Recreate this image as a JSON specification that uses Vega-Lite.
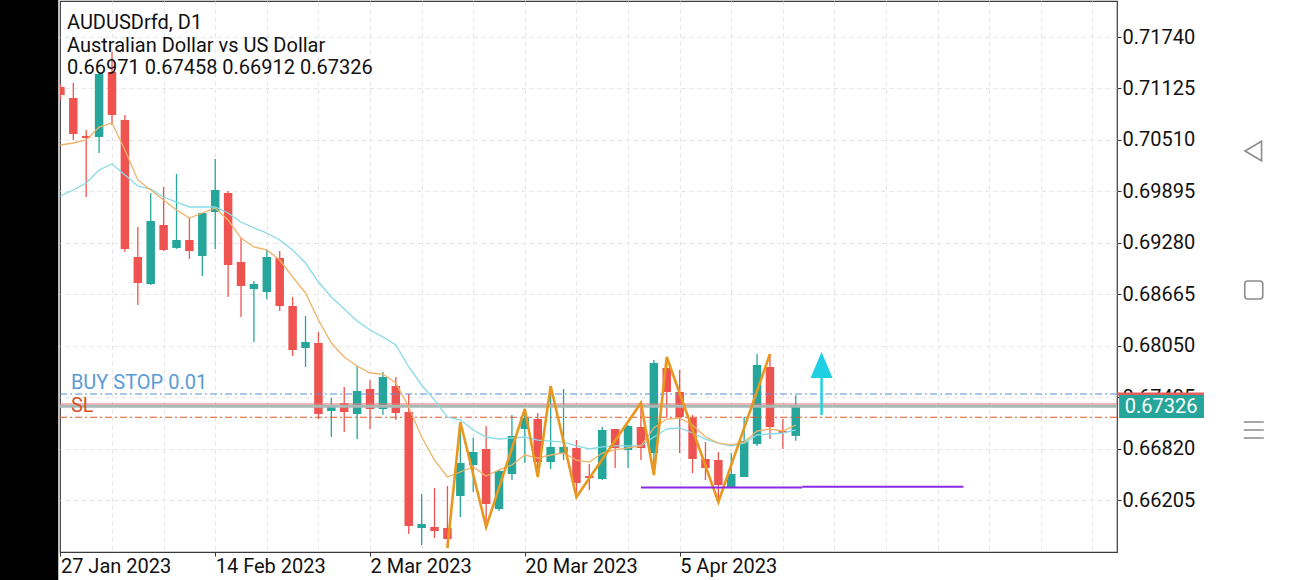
{
  "$schema": "https://vega.github.io/schema/vega-lite/v6.json",
  "width": 1057,
  "height": 551,
  "autosize": {"type": "none"},
  "padding": {"left": 60, "top": 1, "right": 173, "bottom": 28},
  "background": "white",
  "config": {
    "font": "Roboto",
    "view": {"stroke": "#3a3a3a", "strokeWidth": 1.2}
  },
  "datasets": {
    "candles": [
      {"i":0,"o":0.71142,"h":0.71178,"l":0.70987,"c":0.71047},
      {"i":1,"o":0.71011,"h":0.71190,"l":0.70509,"c":0.70580},
      {"i":2,"o":0.70557,"h":0.70628,"l":0.69827,"c":0.70533},
      {"i":3,"o":0.70545,"h":0.71322,"l":0.70353,"c":0.71298},
      {"i":4,"o":0.71322,"h":0.71561,"l":0.70688,"c":0.70808},
      {"i":5,"o":0.70748,"h":0.70808,"l":0.69170,"c":0.69206},
      {"i":6,"o":0.69110,"h":0.69469,"l":0.68536,"c":0.68799},
      {"i":7,"o":0.68787,"h":0.69875,"l":0.68775,"c":0.69540},
      {"i":8,"o":0.69493,"h":0.69947,"l":0.69182,"c":0.69194},
      {"i":9,"o":0.69218,"h":0.70102,"l":0.69206,"c":0.69313},
      {"i":10,"o":0.69313,"h":0.69576,"l":0.69086,"c":0.69182},
      {"i":11,"o":0.69122,"h":0.69636,"l":0.68883,"c":0.69636},
      {"i":12,"o":0.69648,"h":0.70282,"l":0.69206,"c":0.69911},
      {"i":13,"o":0.69875,"h":0.69899,"l":0.68632,"c":0.69014},
      {"i":14,"o":0.69050,"h":0.69337,"l":0.68393,"c":0.68763},
      {"i":15,"o":0.68727,"h":0.68823,"l":0.68094,"c":0.68787},
      {"i":16,"o":0.68692,"h":0.69194,"l":0.68608,"c":0.69110},
      {"i":17,"o":0.69098,"h":0.69182,"l":0.68464,"c":0.68524},
      {"i":18,"o":0.68524,"h":0.68632,"l":0.67927,"c":0.67998},
      {"i":19,"o":0.68022,"h":0.68405,"l":0.67795,"c":0.68094},
      {"i":20,"o":0.68082,"h":0.68213,"l":0.67173,"c":0.67233},
      {"i":21,"o":0.67269,"h":0.67424,"l":0.66958,"c":0.67341},
      {"i":22,"o":0.67365,"h":0.67556,"l":0.67018,"c":0.67257},
      {"i":23,"o":0.67233,"h":0.67807,"l":0.66934,"c":0.67508},
      {"i":24,"o":0.67532,"h":0.67640,"l":0.67054,"c":0.67293},
      {"i":25,"o":0.67293,"h":0.67735,"l":0.67221,"c":0.67675},
      {"i":26,"o":0.67568,"h":0.67675,"l":0.67161,"c":0.67245},
      {"i":27,"o":0.67257,"h":0.67472,"l":0.65799,"c":0.65894},
      {"i":28,"o":0.65870,"h":0.66277,"l":0.65667,"c":0.65918},
      {"i":29,"o":0.65882,"h":0.66348,"l":0.65751,"c":0.65834},
      {"i":30,"o":0.65870,"h":0.66372,"l":0.65631,"c":0.65739},
      {"i":31,"o":0.66253,"h":0.67137,"l":0.66002,"c":0.66647},
      {"i":32,"o":0.66623,"h":0.66946,"l":0.66301,"c":0.66779},
      {"i":33,"o":0.66815,"h":0.67090,"l":0.65882,"c":0.66157},
      {"i":34,"o":0.66097,"h":0.66564,"l":0.66073,"c":0.66552},
      {"i":35,"o":0.66516,"h":0.67221,"l":0.66444,"c":0.66970},
      {"i":36,"o":0.67054,"h":0.67293,"l":0.66647,"c":0.67185},
      {"i":37,"o":0.67173,"h":0.67245,"l":0.66480,"c":0.66659},
      {"i":38,"o":0.66659,"h":0.67568,"l":0.66576,"c":0.66839},
      {"i":39,"o":0.66767,"h":0.67532,"l":0.66683,"c":0.66839},
      {"i":40,"o":0.66827,"h":0.66922,"l":0.66241,"c":0.66408},
      {"i":41,"o":0.66492,"h":0.66635,"l":0.66325,"c":0.66468},
      {"i":42,"o":0.66456,"h":0.67078,"l":0.66444,"c":0.67042},
      {"i":43,"o":0.67054,"h":0.67054,"l":0.66588,"c":0.66827},
      {"i":44,"o":0.66803,"h":0.67102,"l":0.66588,"c":0.67090},
      {"i":45,"o":0.67078,"h":0.67365,"l":0.66683,"c":0.66827},
      {"i":46,"o":0.66767,"h":0.67879,"l":0.66504,"c":0.67843},
      {"i":47,"o":0.67783,"h":0.67915,"l":0.67197,"c":0.67496},
      {"i":48,"o":0.67496,"h":0.67759,"l":0.66767,"c":0.67197},
      {"i":49,"o":0.67185,"h":0.67221,"l":0.66528,"c":0.66695},
      {"i":50,"o":0.66695,"h":0.66898,"l":0.66444,"c":0.66588},
      {"i":51,"o":0.66683,"h":0.66779,"l":0.66181,"c":0.66384},
      {"i":52,"o":0.66360,"h":0.66767,"l":0.66348,"c":0.66516},
      {"i":53,"o":0.66480,"h":0.67197,"l":0.66480,"c":0.66910},
      {"i":54,"o":0.66874,"h":0.67950,"l":0.66851,"c":0.67819},
      {"i":55,"o":0.67795,"h":0.67950,"l":0.66934,"c":0.67078},
      {"i":56,"o":0.67030,"h":0.67173,"l":0.66815,"c":0.67006},
      {"i":57,"o":0.66971,"h":0.67458,"l":0.66912,"c":0.67326}
    ],
    "ma": [
      {"i":0,"fast":0.70449,"slow":0.69839},{"i":1,"fast":0.70473,"slow":0.69911},
      {"i":2,"fast":0.70509,"slow":0.69995},{"i":3,"fast":0.70664,"slow":0.70150},
      {"i":4,"fast":0.70712,"slow":0.70222},{"i":5,"fast":0.70389,"slow":0.70090},
      {"i":6,"fast":0.70031,"slow":0.69959},{"i":7,"fast":0.69911,"slow":0.69923},
      {"i":8,"fast":0.69791,"slow":0.69827},{"i":9,"fast":0.69672,"slow":0.69767},
      {"i":10,"fast":0.69576,"slow":0.69708},{"i":11,"fast":0.69636,"slow":0.69708},
      {"i":12,"fast":0.69696,"slow":0.69708},{"i":13,"fast":0.69552,"slow":0.69636},
      {"i":14,"fast":0.69337,"slow":0.69528},{"i":15,"fast":0.69230,"slow":0.69457},
      {"i":16,"fast":0.69194,"slow":0.69397},{"i":17,"fast":0.69074,"slow":0.69313},
      {"i":18,"fast":0.68871,"slow":0.69194},{"i":19,"fast":0.68680,"slow":0.69038},
      {"i":20,"fast":0.68357,"slow":0.68811},{"i":21,"fast":0.68082,"slow":0.68632},
      {"i":22,"fast":0.67915,"slow":0.68488},{"i":23,"fast":0.67807,"slow":0.68345},
      {"i":24,"fast":0.67723,"slow":0.68237},{"i":25,"fast":0.67711,"slow":0.68154},
      {"i":26,"fast":0.67604,"slow":0.68058},{"i":27,"fast":0.67317,"slow":0.67795},
      {"i":28,"fast":0.66958,"slow":0.67580},{"i":29,"fast":0.66683,"slow":0.67400},
      {"i":30,"fast":0.66480,"slow":0.67197},{"i":31,"fast":0.66540,"slow":0.67161},
      {"i":32,"fast":0.66600,"slow":0.67042},{"i":33,"fast":0.66492,"slow":0.66958},
      {"i":34,"fast":0.66564,"slow":0.66934},{"i":35,"fast":0.66623,"slow":0.66946},
      {"i":36,"fast":0.66743,"slow":0.66958},{"i":37,"fast":0.66707,"slow":0.66922},
      {"i":38,"fast":0.66743,"slow":0.66910},{"i":39,"fast":0.66767,"slow":0.66898},
      {"i":40,"fast":0.66683,"slow":0.66851},{"i":41,"fast":0.66659,"slow":0.66815},
      {"i":42,"fast":0.66767,"slow":0.66839},{"i":43,"fast":0.66803,"slow":0.66851},
      {"i":44,"fast":0.66827,"slow":0.66851},{"i":45,"fast":0.66851,"slow":0.66851},
      {"i":46,"fast":0.67066,"slow":0.66958},{"i":47,"fast":0.67173,"slow":0.67054},
      {"i":48,"fast":0.67185,"slow":0.67066},{"i":49,"fast":0.67102,"slow":0.67006},
      {"i":50,"fast":0.66958,"slow":0.66934},{"i":51,"fast":0.66886,"slow":0.66886},
      {"i":52,"fast":0.66863,"slow":0.66851},{"i":53,"fast":0.66898,"slow":0.66886},
      {"i":54,"fast":0.67030,"slow":0.66982},{"i":55,"fast":0.67054,"slow":0.66994},
      {"i":56,"fast":0.67030,"slow":0.67006},{"i":57,"fast":0.67102,"slow":0.67042}
    ],
    "zigzag": [
      {"i":30,"p":0.65631},{"i":31,"p":0.67137},{"i":33,"p":0.65882},{"i":36,"p":0.67293},
      {"i":37,"p":0.66480},{"i":38,"p":0.67568},{"i":40,"p":0.66241},{"i":45,"p":0.67365},
      {"i":46,"p":0.66504},{"i":47,"p":0.67915},{"i":51,"p":0.66181},{"i":55,"p":0.67950}
    ],
    "levels": [
      {"name":"buystop","label":"BUY STOP 0.01","p":0.67472},
      {"name":"sl","label":"SL","p":0.67194},
      {"name":"ask","label":"","p":0.67353},
      {"name":"bid","label":"","p":0.67326}
    ],
    "support": [
      {"from":45,"to":57.5,"p":0.66354},
      {"from":57.5,"to":70,"p":0.66363}
    ],
    "arrow": [
      {"i":59,"base":0.67221,"tip":0.67663,"head":0.67819}
    ],
    "header": [
      {"lines": ["AUDUSDrfd, D1", "Australian Dollar vs US Dollar", "0.66971 0.67458 0.66912 0.67326"]}
    ]
  },
  "resolve": {"axis": {"x": "independent", "y": "independent"}},
  "layer": [
    {
      "data": {"name": "candles"},
      "mark": {"type": "rule", "strokeWidth": 1.3, "clip": true},
      "encoding": {
        "x": {"field": "i", "type": "quantitative", "scale": {"domain": [-0.031, 81.9], "nice": false, "zero": false, "padding": 0},
          "axis": {"orient": "bottom", "values": [4,8,12,16,20,24,28,32,36,40,44,48,52,56,60,64,68,72,76,80], "grid": true, "gridColor": "#e4e4e4", "gridDash": [4,4], "gridWidth": 1, "labels": false, "ticks": false, "domain": false, "title": null}},
        "y": {"field": "l", "type": "quantitative", "scale": {"domain": [0.655834, 0.721704], "nice": false, "zero": false, "padding": 0},
          "axis": {"orient": "right", "values": [0.66205,0.66820,0.67435,0.68050,0.68665,0.69280,0.69895,0.70510,0.71125,0.71740], "format": ".5f",
            "grid": true, "gridColor": "#e4e4e4", "gridDash": [4,4], "gridWidth": 1, "domain": false, "ticks": true, "tickSize": 4, "tickColor": "#333333",
            "labelPadding": 1, "labelFontSize": 20, "labelFont": "Roboto", "labelColor": "#111111", "labelBaseline": "middle", "labelFlush": false, "labelOverlap": false, "labelBound": false, "title": null}},
        "y2": {"field": "h"},
        "color": {"condition": {"test": "datum.c >= datum.o", "value": "#26A69A"}, "value": "#EF5350"}
      }
    },
    {
      "data": {"name": "candles"},
      "mark": {"type": "bar", "size": 8.5, "clip": true},
      "encoding": {
        "x": {"field": "i", "type": "quantitative", "scale": {"domain": [-0.031, 81.9], "nice": false, "zero": false, "padding": 0},
          "axis": {"orient": "bottom", "values": [0,12,24,36,48], "labelExpr": "datum.value == 0 ? '27 Jan 2023' : datum.value == 12 ? '14 Feb 2023' : datum.value == 24 ? '2 Mar 2023' : datum.value == 36 ? '20 Mar 2023' : '5 Apr 2023'",
            "labelAlign": "left", "labelBaseline": "top", "labelPadding": 0, "labelFontSize": 20, "labelFont": "Roboto", "labelColor": "#111111",
            "grid": false, "domain": false, "ticks": true, "tickSize": 4, "tickColor": "#333333", "labelFlush": false, "labelOverlap": false, "labelBound": false, "title": null}},
        "y": {"field": "o", "type": "quantitative", "scale": {"domain": [0.655834, 0.721704], "nice": false, "zero": false, "padding": 0}, "axis": null},
        "y2": {"field": "c"},
        "color": {"condition": {"test": "datum.c >= datum.o", "value": "#26A69A"}, "value": "#EF5350"}
      }
    },
    {
      "data": {"name": "levels"},
      "transform": [{"filter": "datum.name == 'bid'"}],
      "mark": {"type": "rule", "color": "#a9b9b6", "strokeWidth": 3},
      "encoding": {"y": {"field": "p", "type": "quantitative", "scale": {"domain": [0.655834, 0.721704], "nice": false, "zero": false, "padding": 0}, "axis": null}}
    },
    {
      "data": {"name": "levels"},
      "transform": [{"filter": "datum.name == 'ask'"}],
      "mark": {"type": "rule", "color": "#e07b7b", "strokeWidth": 1},
      "encoding": {"y": {"field": "p", "type": "quantitative", "scale": {"domain": [0.655834, 0.721704], "nice": false, "zero": false, "padding": 0}, "axis": null}}
    },
    {
      "data": {"name": "levels"},
      "transform": [{"filter": "datum.name == 'buystop'"}],
      "mark": {"type": "rule", "color": "#5b8fd6", "strokeWidth": 1.2, "strokeDash": [7,3,2,3]},
      "encoding": {"y": {"field": "p", "type": "quantitative", "scale": {"domain": [0.655834, 0.721704], "nice": false, "zero": false, "padding": 0}, "axis": null}}
    },
    {
      "data": {"name": "levels"},
      "transform": [{"filter": "datum.name == 'sl'"}],
      "mark": {"type": "rule", "color": "#e0592a", "strokeWidth": 1.2, "strokeDash": [7,3,2,3]},
      "encoding": {"y": {"field": "p", "type": "quantitative", "scale": {"domain": [0.655834, 0.721704], "nice": false, "zero": false, "padding": 0}, "axis": null}}
    },
    {
      "data": {"name": "ma"},
      "mark": {"type": "line", "color": "#86dbe6", "strokeWidth": 1.3, "clip": true},
      "encoding": {
        "x": {"field": "i", "type": "quantitative", "scale": {"domain": [-0.031, 81.9], "nice": false, "zero": false, "padding": 0}, "axis": null},
        "y": {"field": "slow", "type": "quantitative", "scale": {"domain": [0.655834, 0.721704], "nice": false, "zero": false, "padding": 0}, "axis": null}
      }
    },
    {
      "data": {"name": "ma"},
      "mark": {"type": "line", "color": "#efb268", "strokeWidth": 1.3, "clip": true},
      "encoding": {
        "x": {"field": "i", "type": "quantitative", "scale": {"domain": [-0.031, 81.9], "nice": false, "zero": false, "padding": 0}, "axis": null},
        "y": {"field": "fast", "type": "quantitative", "scale": {"domain": [0.655834, 0.721704], "nice": false, "zero": false, "padding": 0}, "axis": null}
      }
    },
    {
      "data": {"name": "zigzag"},
      "mark": {"type": "line", "color": "#e8981e", "strokeWidth": 2.6, "clip": true},
      "encoding": {
        "x": {"field": "i", "type": "quantitative", "scale": {"domain": [-0.031, 81.9], "nice": false, "zero": false, "padding": 0}, "axis": null},
        "y": {"field": "p", "type": "quantitative", "scale": {"domain": [0.655834, 0.721704], "nice": false, "zero": false, "padding": 0}, "axis": null}
      }
    },
    {
      "data": {"name": "support"},
      "mark": {"type": "rule", "color": "#8a2be2", "strokeWidth": 2},
      "encoding": {
        "x": {"field": "from", "type": "quantitative", "scale": {"domain": [-0.031, 81.9], "nice": false, "zero": false, "padding": 0}, "axis": null},
        "x2": {"field": "to"},
        "y": {"field": "p", "type": "quantitative", "scale": {"domain": [0.655834, 0.721704], "nice": false, "zero": false, "padding": 0}, "axis": null}
      }
    },
    {
      "data": {"name": "arrow"},
      "mark": {"type": "rule", "color": "#1fd0e3", "strokeWidth": 2.5},
      "encoding": {
        "x": {"field": "i", "type": "quantitative", "scale": {"domain": [-0.031, 81.9], "nice": false, "zero": false, "padding": 0}, "axis": null},
        "y": {"field": "base", "type": "quantitative", "scale": {"domain": [0.655834, 0.721704], "nice": false, "zero": false, "padding": 0}, "axis": null},
        "y2": {"field": "tip"}
      }
    },
    {
      "data": {"name": "arrow"},
      "mark": {"type": "point", "shape": "M0,-1L0.85,1L-0.85,1Z", "filled": true, "color": "#1fd0e3", "opacity": 1, "size": 676},
      "encoding": {
        "x": {"field": "i", "type": "quantitative", "scale": {"domain": [-0.031, 81.9], "nice": false, "zero": false, "padding": 0}, "axis": null},
        "y": {"field": "head", "type": "quantitative", "scale": {"domain": [0.655834, 0.721704], "nice": false, "zero": false, "padding": 0}, "axis": null}
      }
    },
    {
      "data": {"name": "levels"},
      "transform": [{"filter": "datum.name == 'buystop' || datum.name == 'sl'"}],
      "mark": {"type": "text", "align": "left", "baseline": "alphabetic", "dx": 10.5, "dy": -5.5, "fontSize": 20, "font": "Roboto"},
      "encoding": {
        "x": {"datum": 0, "type": "quantitative", "scale": {"domain": [-0.031, 81.9], "nice": false, "zero": false, "padding": 0}, "axis": null},
        "y": {"field": "p", "type": "quantitative", "scale": {"domain": [0.655834, 0.721704], "nice": false, "zero": false, "padding": 0}, "axis": null},
        "text": {"field": "label"},
        "color": {"condition": {"test": "datum.name == 'sl'", "value": "#d4572a"}, "value": "#5b9bd5"}
      }
    },
    {
      "data": {"name": "header"},
      "mark": {"type": "text", "align": "left", "baseline": "top", "dx": 7, "dy": 12.2, "fontSize": 20, "font": "Roboto", "color": "#111111", "lineHeight": 22.5},
      "encoding": {
        "x": {"datum": -0.031, "type": "quantitative", "scale": {"domain": [-0.031, 81.9], "nice": false, "zero": false, "padding": 0}, "axis": null},
        "y": {"datum": 0.721704, "type": "quantitative", "scale": {"domain": [0.655834, 0.721704], "nice": false, "zero": false, "padding": 0}, "axis": null},
        "text": {"field": "lines"}
      }
    },
    {
      "data": {"name": "levels"},
      "transform": [{"filter": "datum.name == 'bid'"}],
      "mark": {"type": "rect", "color": "#e35d5d"},
      "encoding": {
        "x": {"datum": 81.9, "type": "quantitative", "scale": {"domain": [-0.031, 81.9], "nice": false, "zero": false, "padding": 0}, "axis": null},
        "x2": {"datum": 88.64},
        "y": {"datum": 0.67489, "type": "quantitative", "scale": {"domain": [0.655834, 0.721704], "nice": false, "zero": false, "padding": 0}, "axis": null},
        "y2": {"datum": 0.67454}
      }
    },
    {
      "data": {"name": "levels"},
      "transform": [{"filter": "datum.name == 'bid'"}],
      "mark": {"type": "rect", "color": "#26A69A"},
      "encoding": {
        "x": {"datum": 82.06, "type": "quantitative", "scale": {"domain": [-0.031, 81.9], "nice": false, "zero": false, "padding": 0}, "axis": null},
        "x2": {"datum": 88.64},
        "y": {"datum": 0.67460, "type": "quantitative", "scale": {"domain": [0.655834, 0.721704], "nice": false, "zero": false, "padding": 0}, "axis": null},
        "y2": {"datum": 0.67185}
      }
    },
    {
      "data": {"name": "levels"},
      "transform": [{"filter": "datum.name == 'bid'"}],
      "mark": {"type": "text", "align": "left", "baseline": "middle", "dy": 1, "fontSize": 20, "font": "Roboto", "color": "#ffffff"},
      "encoding": {
        "x": {"datum": 82.5, "type": "quantitative", "scale": {"domain": [-0.031, 81.9], "nice": false, "zero": false, "padding": 0}, "axis": null},
        "y": {"field": "p", "type": "quantitative", "scale": {"domain": [0.655834, 0.721704], "nice": false, "zero": false, "padding": 0}, "axis": null},
        "text": {"field": "p", "format": ".5f"}
      }
    },
    {
      "data": {"values": [{}]},
      "mark": {"type": "rect", "color": "#000000"},
      "encoding": {
        "x": {"datum": -6, "type": "quantitative", "scale": {"domain": [-0.031, 81.9], "nice": false, "zero": false, "padding": 0}, "axis": null},
        "x2": {"datum": -0.165},
        "y": {"datum": 0.80, "type": "quantitative", "scale": {"domain": [0.655834, 0.721704], "nice": false, "zero": false, "padding": 0}, "axis": null},
        "y2": {"datum": 0.60}
      }
    },
    {
      "data": {"values": [{}]},
      "mark": {"type": "point", "shape": "M0.8,-1L-0.9,0L0.8,1Z", "filled": false, "color": "#8c8c8c", "strokeWidth": 1.6, "opacity": 1, "size": 380},
      "encoding": {
        "x": {"datum": 92.5, "type": "quantitative", "scale": {"domain": [-0.031, 81.9], "nice": false, "zero": false, "padding": 0}, "axis": null},
        "y": {"datum": 0.70377, "type": "quantitative", "scale": {"domain": [0.655834, 0.721704], "nice": false, "zero": false, "padding": 0}, "axis": null}
      }
    },
    {
      "data": {"values": [{}]},
      "mark": {"type": "point", "shape": "M-0.6,-0.9L0.6,-0.9Q0.9,-0.9 0.9,-0.6L0.9,0.6Q0.9,0.9 0.6,0.9L-0.6,0.9Q-0.9,0.9 -0.9,0.6L-0.9,-0.6Q-0.9,-0.9 -0.6,-0.9Z", "filled": false, "color": "#8c8c8c", "strokeWidth": 1.6, "opacity": 1, "size": 400},
      "encoding": {
        "x": {"datum": 92.5, "type": "quantitative", "scale": {"domain": [-0.031, 81.9], "nice": false, "zero": false, "padding": 0}, "axis": null},
        "y": {"datum": 0.68716, "type": "quantitative", "scale": {"domain": [0.655834, 0.721704], "nice": false, "zero": false, "padding": 0}, "axis": null}
      }
    },
    {
      "data": {"values": [{}]},
      "mark": {"type": "point", "shape": "M-1,-0.8L1,-0.8M-1,0L1,0M-1,0.8L1,0.8", "filled": false, "color": "#8c8c8c", "strokeWidth": 1.6, "opacity": 1, "size": 400},
      "encoding": {
        "x": {"datum": 92.5, "type": "quantitative", "scale": {"domain": [-0.031, 81.9], "nice": false, "zero": false, "padding": 0}, "axis": null},
        "y": {"datum": 0.67042, "type": "quantitative", "scale": {"domain": [0.655834, 0.721704], "nice": false, "zero": false, "padding": 0}, "axis": null}
      }
    }
  ]
}
